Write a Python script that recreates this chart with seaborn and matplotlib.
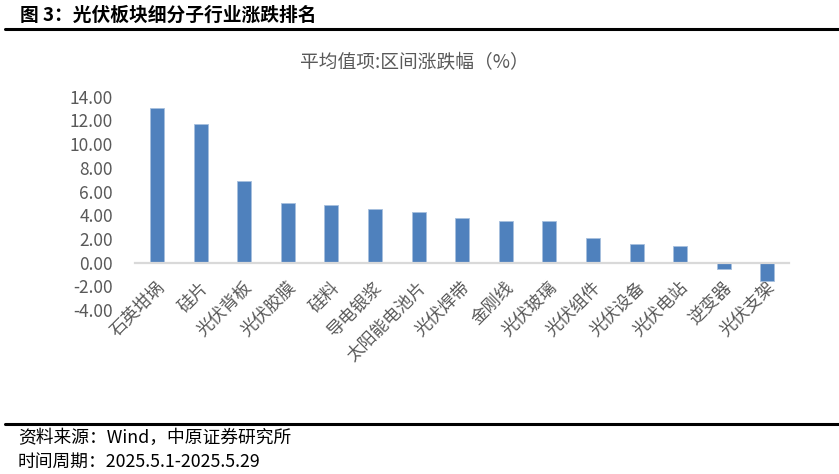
import matplotlib
matplotlib.use("Agg")
import matplotlib.pyplot as plt
import matplotlib.transforms as mtransforms
import seaborn as sns
import pandas as pd
from matplotlib.lines import Line2D

categories = ["石英坩埚", "硅片", "光伏背板", "光伏胶膜", "硅料", "导电银浆", "太阳能电池片",
              "光伏焊带", "金刚线", "光伏玻璃", "光伏组件", "光伏设备", "光伏电站", "逆变器", "光伏支架"]
values = [13.02, 11.69, 6.87, 5.07, 4.84, 4.56, 4.28, 3.73, 3.55, 3.49, 2.11, 1.61, 1.44, -0.58, -1.58]
y_ticks = [-4, -2, 0, 2, 4, 6, 8, 10, 12, 14]

fig_title = "图 3：光伏板块细分子行业涨跌排名"
chart_title = "平均值项:区间涨跌幅（%）"
source_text = "资料来源：Wind，中原证券研究所"
period_text = "时间周期：2025.5.1-2025.5.29"

sns.set_theme(style="white")
plt.rcParams['font.family'] = ['Noto Sans CJK SC', 'DejaVu Sans']

W, H = 839, 474
fig = plt.figure(figsize=(W / 100, H / 100), dpi=100)
ax = fig.add_axes([135.2 / W, 1 - 310 / H, 654 / W, (310 - 96.7) / H])

df = pd.DataFrame({"cat": categories, "val": values})
sns.barplot(data=df, x="cat", y="val", color="#4F81BD", saturation=1, width=0.32,
            edgecolor="#A7BFDE", linewidth=0.6, ax=ax)

ax.set_xlim(-0.5, len(categories) - 0.5)
ax.set_ylim(-4, 14)
ax.set_yticks(y_ticks)
ax.set_yticklabels([f"{v:.2f}" for v in y_ticks], color="#595959", fontsize=12.5)
ax.set_xlabel("")
ax.set_ylabel("")
for s in ["top", "right", "left"]:
    ax.spines[s].set_visible(False)
ax.spines["bottom"].set_position(("data", 0))
ax.spines["bottom"].set_color("#D9D9D9")
ax.spines["bottom"].set_linewidth(1.6)
ax.tick_params(axis="both", length=0)
ax.tick_params(axis="y", pad=16)
ax.tick_params(axis="x", pad=16)
offset = mtransforms.ScaledTranslation(5 / 100, 0, fig.dpi_scale_trans)
for lab in ax.get_xticklabels():
    lab.set_rotation(45)
    lab.set_ha("right")
    lab.set_va("center")
    lab.set_rotation_mode("anchor")
    lab.set_color("#595959")
    lab.set_fontsize(12.5)
    lab.set_transform(lab.get_transform() + offset)
ax.grid(False)

fig.text(414 / W, 1 - 63 / H, chart_title, ha="center", va="center", fontsize=13.5, color="#595959")
fig.text(20 / W, 1 - 15 / H, fig_title, ha="left", va="center", fontsize=13.5,
         fontweight="bold", color="black")
fig.add_artist(Line2D([5 / W, 1], [1 - 29 / H, 1 - 29 / H], color="black", linewidth=2.2))
fig.add_artist(Line2D([5 / W, 1], [1 - 423.5 / H, 1 - 423.5 / H], color="black", linewidth=2.2))
fig.text(18 / W, 1 - 438 / H, source_text, ha="left", va="center", fontsize=12.8, color="black")
fig.text(18 / W, 1 - 462 / H, period_text, ha="left", va="center", fontsize=12.8, color="black")

fig.savefig("out.png", dpi=100)
